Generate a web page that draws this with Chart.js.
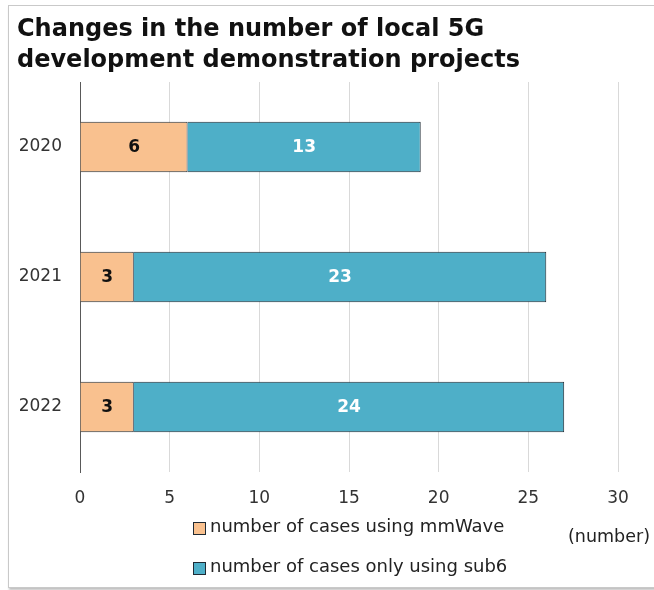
<!DOCTYPE html>
<html>
<head>
<meta charset="utf-8">
<script src="https://cdn.jsdelivr.net/npm/chart.js@4.4.1/dist/chart.umd.min.js"></script>
<style>
  html, body { margin: 0; padding: 0; background: #fff; }
  #wrap { position: relative; width: 654px; height: 590px; overflow: hidden; }
  #frame { position: absolute; left: 8px; top: 5px; width: 700px; height: 581px;
           border: 1px solid #c9c9c9; box-shadow: 1px 2px 2px rgba(0,0,0,0.25); }
  #chart { position: absolute; left: 0; top: 0; }
</style>
</head>
<body>
<div id="wrap">
  <div id="frame"></div>
  <canvas id="chart" width="654" height="590"></canvas>
</div>
<script>
// data
const years = ['2020', '2021', '2022'];
const mmWaveCases = [6, 3, 3];
const sub6OnlyCases = [13, 23, 24];
const seriesNames = ['number of cases using mmWave', 'number of cases only using sub6'];
const xTickStep = 5;
const xMax = 30;
const titleLines = ['Changes in the number of local 5G', 'development demonstration projects'];
const unitText = '(number)';

const ORANGE = '#f9c18f';
const BLUE = '#4eafc8';
const EDGE = '#1f2a33';

// title, legend and unit note drawn straight onto the canvas
const textPlugin = {
    id: 'textPlugin',
    afterDraw(chart) {
        const c = chart.ctx;
        c.save();
        c.fillStyle = '#111';
        c.textAlign = 'left';
        c.textBaseline = 'alphabetic';
        c.font = 'bold 24px "DejaVu Sans", sans-serif';
        c.fillText(titleLines[0], 17, 36);
        c.fillText(titleLines[1], 17, 67);

        // legend, one item per line
        c.font = '18px "DejaVu Sans", sans-serif';
        c.textBaseline = 'middle';
        chart.data.datasets.forEach((ds, i) => {
            const y = 527 + i * 40;
            c.fillStyle = ds.backgroundColor;
            c.fillRect(193.5, y - 4.5, 12, 12);
            c.strokeStyle = EDGE;
            c.lineWidth = 1;
            c.strokeRect(193.5, y - 4.5, 12, 12);
            c.fillStyle = '#222';
            c.fillText(ds.label, 210, y);
        });

        c.font = '17.5px "DejaVu Sans", sans-serif';
        c.fillText(unitText, 568, 537);
        c.restore();
    }
};

// value labels in the middle of each segment
const valueLabels = {
    id: 'valueLabels',
    afterDatasetsDraw(chart) {
        const c = chart.ctx;
        c.save();
        c.font = 'bold 17px "DejaVu Sans", sans-serif';
        c.textAlign = 'center';
        c.textBaseline = 'middle';
        chart.data.datasets.forEach((ds, di) => {
            const meta = chart.getDatasetMeta(di);
            c.fillStyle = di === 0 ? '#111' : '#fff';
            meta.data.forEach((bar, i) => {
                const p = bar.getProps(['x', 'y', 'base'], true);
                c.fillText(String(ds.data[i]), (p.x + p.base) / 2, p.y + 1);
            });
        });
        c.restore();
    }
};

new Chart(document.getElementById('chart'), {
    type: 'bar',
    data: {
        labels: years,
        datasets: [
            { label: seriesNames[0], data: mmWaveCases, backgroundColor: ORANGE, borderColor: EDGE, borderWidth: 1 },
            { label: seriesNames[1], data: sub6OnlyCases, backgroundColor: BLUE, borderColor: EDGE, borderWidth: 1 }
        ]
    },
    options: {
        indexAxis: 'y',
        responsive: false,
        animation: false,
        devicePixelRatio: 1,
        categoryPercentage: 1,
        barPercentage: 0.39,
        layout: { padding: { left: 0, top: 82, right: 36, bottom: 78 } },
        plugins: {
            legend: { display: false },
            title: { display: false },
            tooltip: { enabled: false }
        },
        scales: {
            x: {
                stacked: true,
                min: 0,
                max: xMax,
                afterFit: s => { s.height = 40; },
                ticks: {
                    stepSize: xTickStep,
                    color: '#333',
                    padding: 16,
                    font: { family: '"DejaVu Sans", sans-serif', size: 17 }
                },
                grid: { color: '#d9d9d9', drawTicks: false },
                border: { display: false }
            },
            y: {
                stacked: true,
                afterFit: s => { s.width = 80; },
                ticks: {
                    color: '#333',
                    padding: 18,
                    font: { family: '"DejaVu Sans", sans-serif', size: 17 }
                },
                grid: { display: false, drawTicks: false },
                border: { color: '#595959', width: 1 }
            }
        }
    },
    plugins: [textPlugin, valueLabels]
});
</script>
</body>
</html>
